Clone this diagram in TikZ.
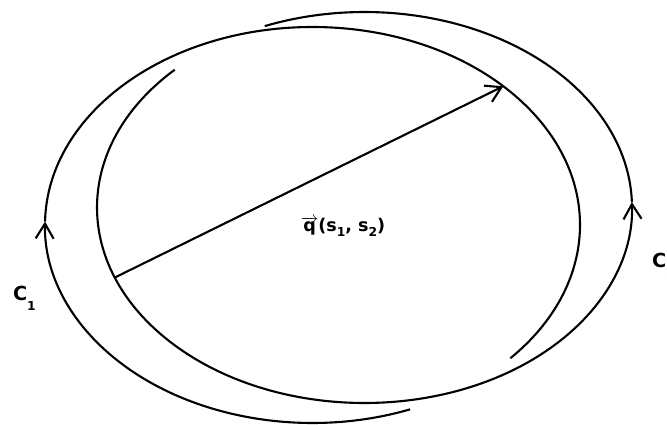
\documentclass[tikz,border=0pt]{standalone}
\usepackage{fontspec}
\setmainfont{DejaVu Sans}
\usepackage{tikz}
\usetikzlibrary{arrows.meta,calc}
\newcommand{\lowidx}[2][-3pt]{\raisebox{#1}{\fontsize{7}{7}\selectfont #2}}

\begin{document}
\begin{tikzpicture}[x=.02cm,y=.02cm,line width=1.2pt,font=\bfseries\fontsize{10}{12}\selectfont,
 every node/.style={inner sep=0pt},>={Straight Barb[length=3mm,width=3.6mm]},
 arcL/.style={x radius=267.5,y radius=198},
 arcR/.style={x radius=267.5,y radius=195.5}]
\useasboundingbox (0,0) rectangle (667,424);
\begin{scope}[shift={(312.5,199)}] % C1, clockwise
 \draw[->] (-68.6:267.5 and 198) arc[arcL,start angle=-68.6,end angle=-181] coordinate (c1tip);
 \draw (c1tip) arc[arcL,start angle=-181,end angle=-402.3];
 \coordinate (qend) at (44.5:267.5 and 198);
\end{scope}
\begin{scope}[shift={(364.5,216.5)}] % C2, counter-clockwise
 \draw[->] (135.2:267.5 and 195.5) arc[arcR,start angle=135.2,end angle=361.6] coordinate (c2tip);
 \draw (c2tip) arc[arcR,start angle=361.6,end angle=471.9];
 \coordinate (qstart) at (201:267.5 and 195.5);
\end{scope}
\draw[->] (qstart) -- (qend);
\node (qlab) at (343,197) {$\overrightarrow{\hbox{q}}$(s\lowidx{1}, s\lowidx{2})};
\node[anchor=base west,font=\bfseries\fontsize{11}{13}\selectfont] (c1lab) at (12,124) {C\lowidx[-6pt]{1}};
\node[anchor=base west,font=\bfseries\fontsize{11}{13}\selectfont] (c2lab) at (651,157) {C\lowidx[-6pt]{2}};
\end{tikzpicture}
\end{document}
